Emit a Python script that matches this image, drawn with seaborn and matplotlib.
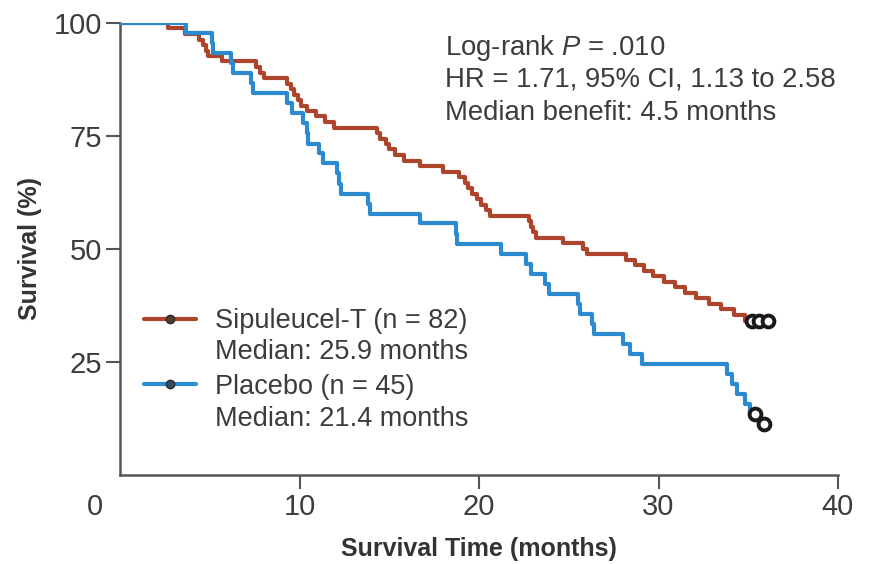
import matplotlib
matplotlib.use("Agg")
import matplotlib.pyplot as plt
from matplotlib.lines import Line2D
import seaborn as sns
import pandas as pd

# ---- data ----
sip_time = [0, 2.7, 3.6, 4.4, 4.6, 4.8, 4.9, 5.7, 7.6, 7.8, 8.0, 9.3, 9.5, 9.7, 9.9, 10.1, 10.4,
            10.9, 11.4, 11.9, 14.3, 14.5, 14.8, 15.0, 15.3, 15.8, 16.7, 18.0, 18.9, 19.2, 19.4,
            19.6, 19.9, 20.1, 20.4, 20.6, 22.8, 22.9, 23.0, 23.2, 24.7, 25.8, 26.0, 28.2, 28.7,
            29.2, 29.7, 30.3, 30.9, 31.5, 32.1, 32.8, 33.5, 34.2, 34.8, 36.1]
sip_surv = [100, 98.8, 97.6, 96.3, 95.1, 93.9, 92.7, 91.5, 90.2, 89.0, 87.8, 86.6, 85.4, 84.1,
            82.9, 81.7, 80.5, 79.3, 78.0, 76.8, 75.6, 74.4, 73.2, 72.0, 70.7, 69.5, 68.3, 67.1,
            65.9, 64.6, 63.4, 62.2, 61.0, 59.8, 58.5, 57.3, 56.1, 54.9, 53.7, 52.4, 51.2, 50.0,
            48.8, 47.6, 46.3, 45.1, 43.9, 42.7, 41.5, 40.2, 39.0, 37.8, 36.6, 35.4, 34.1, 34.1]
sip_cens_time = [35.2, 35.6, 36.1]
sip_cens_surv = [34.1, 34.1, 34.1]

pla_time = [0, 3.7, 5.1, 5.2, 6.2, 6.3, 7.3, 7.4, 9.3, 9.6, 10.2, 10.4, 10.5, 11.1, 11.3, 12.1,
            12.2, 12.3, 13.8, 13.9, 16.7, 18.7, 18.8, 21.2, 22.6, 22.9, 23.7, 23.9, 25.5, 25.6,
            26.3, 26.4, 28.0, 28.4, 29.1, 33.8, 34.1, 34.4, 34.8, 35.1, 35.6, 35.9]
pla_surv = [100, 97.8, 95.6, 93.3, 91.1, 88.9, 86.7, 84.4, 82.2, 80.0, 77.8, 75.6, 73.3, 71.1,
            68.9, 66.7, 64.4, 62.2, 60.0, 57.8, 55.6, 53.3, 51.1, 48.9, 46.7, 44.4, 42.2, 40.0,
            37.8, 35.6, 33.3, 31.1, 28.9, 26.7, 24.4, 22.2, 20.0, 17.8, 15.6, 13.3, 11.1, 11.1]
pla_cens_time = [35.4, 35.9]
pla_cens_surv = [13.3, 11.1]

x_ticks = [10, 20, 30, 40]
y_ticks = [25, 50, 75, 100]
legend_labels = ["Sipuleucel-T (n = 82)", "Placebo (n = 45)"]
median_labels = ["Median: 25.9 months", "Median: 21.4 months"]
stats_lines = ["Log-rank $P$ = .010", "HR = 1.71, 95% CI, 1.13 to 2.58", "Median benefit: 4.5 months"]

RED = "#ad452c"
BLUE = "#2b8ad0"
TXT = "#3c3c3c"
AX = "#555555"

sns.set_theme(style="white")
plt.rcParams["font.family"] = ["Liberation Sans", "DejaVu Sans"]
plt.rcParams["mathtext.fontset"] = "custom"
plt.rcParams["mathtext.it"] = "Liberation Sans:italic"
plt.rcParams["mathtext.rm"] = "Liberation Sans"

fig = plt.figure(figsize=(8.7, 5.64), dpi=100)
ax = fig.add_axes([120 / 870, 1 - 474.5 / 564, 718 / 870, 451.5 / 564])

df_s = pd.DataFrame({"t": sip_time, "s": sip_surv})
df_p = pd.DataFrame({"t": pla_time, "s": pla_surv})
sns.lineplot(data=df_s, x="t", y="s", drawstyle="steps-post", color=RED, lw=3.0, ax=ax,
             estimator=None, sort=False, zorder=3)
sns.lineplot(data=df_p, x="t", y="s", drawstyle="steps-post", color=BLUE, lw=3.0, ax=ax,
             estimator=None, sort=False, zorder=4)
sns.lineplot(x=sip_cens_time, y=sip_cens_surv, marker="o", linestyle="", ms=8.5,
             mfc="white", mec="#1a1a1a", mew=2.8, ax=ax, estimator=None, zorder=5)
sns.lineplot(x=pla_cens_time, y=pla_cens_surv, marker="o", linestyle="", ms=8.5,
             mfc="white", mec="#1a1a1a", mew=2.8, ax=ax, estimator=None, zorder=5)

ax.set_xlim(0, 40)
ax.set_ylim(0, 100)
ax.set_xticks(x_ticks)
ax.set_yticks(y_ticks)
ax.tick_params(axis="both", direction="out", length=10, width=1.5, color=AX,
               labelsize=21, labelcolor=TXT, pad=3, bottom=True, left=True)
for side in ["top", "right"]:
    ax.spines[side].set_visible(False)
for side in ["left", "bottom"]:
    ax.spines[side].set_color(AX)
    ax.spines[side].set_linewidth(1.8)

ax.annotate("0", xy=(0, 0), xycoords="data", xytext=(-18, -13), textcoords="offset points",
            ha="center", va="top", fontsize=21, color=TXT)

ax.set_xlabel("Survival Time (months)", fontsize=18, fontweight="bold", color="#333333", labelpad=12)
ax.set_ylabel("Survival (%)", fontsize=18, fontweight="bold", color="#333333", labelpad=8)

handles = [Line2D([], [], color=RED, lw=3, marker="o", ms=6, mfc="#5a3a32", mec="#2a2a2a"),
           Line2D([], [], color=BLUE, lw=3, marker="o", ms=6, mfc="#2f4f6a", mec="#2a2a2a")]
leg = ax.legend(handles, legend_labels, loc="upper left", bbox_to_anchor=(0.0, 0.422),
                frameon=False, fontsize=19.5, handlelength=1.9, handletextpad=0.72,
                labelspacing=1.45, labelcolor=TXT)

ax.text(0.1323, 0.2713, median_labels[0], transform=ax.transAxes, fontsize=19.5,
        color=TXT, ha="left", va="center")
ax.text(0.1323, 0.1229, median_labels[1], transform=ax.transAxes, fontsize=19.5,
        color=TXT, ha="left", va="center")

for y, s in zip([0.9446, 0.8738, 0.8007], stats_lines):
    ax.text(0.4526, y, s, transform=ax.transAxes, fontsize=19.8, color=TXT, ha="left", va="center")

fig.savefig("out.png", dpi=100, facecolor="white")
